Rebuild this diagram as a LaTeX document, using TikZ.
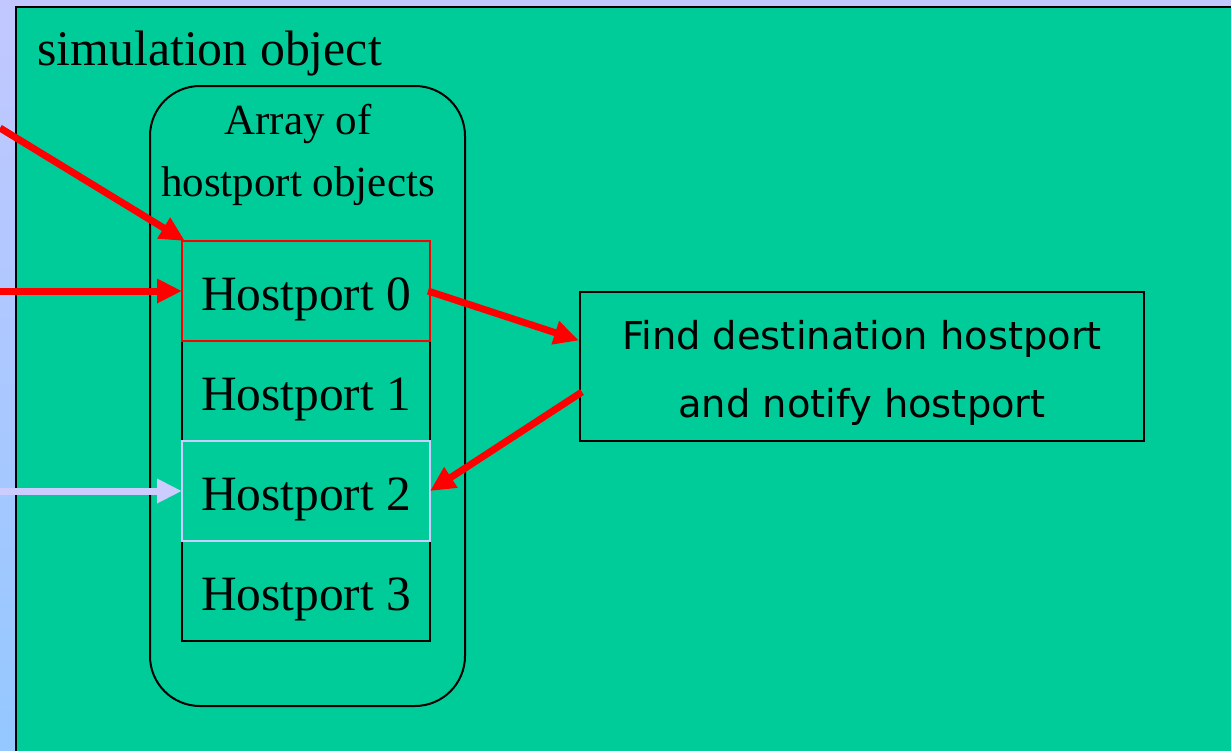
\documentclass[tikz,border=0pt]{standalone}
\usepackage{fontspec}
\setmainfont{Liberation Serif}
\newfontfamily\findfont{DejaVu Sans}
\usetikzlibrary{arrows.meta}
\definecolor{simgreen}{RGB}{0,204,153}
\definecolor{lavender}{RGB}{204,204,255}
\definecolor{bgtop}{RGB}{194,200,255}
\definecolor{bgbot}{RGB}{148,200,255}

\begin{document}
\begin{tikzpicture}[x=0.5pt, y=-0.5pt,
    hpbox/.style={minimum width=124pt, minimum height=50pt, inner sep=0pt, outer sep=0pt,
      line width=1pt, text height=19pt, text depth=0pt, font=\fontsize{24.7}{30}\selectfont},
    redarrow/.style={red, line width=3.5pt, -{Triangle[length=12.5pt,width=11.5pt]}},
    lavarrow/.style={redarrow, lavender}]
    \useasboundingbox (0,0) rectangle (1231,750);
    \clip (0,0) rectangle (1231,750);
    \shade[top color=bgtop, bottom color=bgbot] (0,0) rectangle (1231,750);
    % simulation object
    \draw[fill=simgreen, line width=1pt] (16,7) rectangle (1245,765);
    \node[anchor=base west, inner sep=0pt, font=\fontsize{24.9}{30}\selectfont] (sim) at (37,65) {simulation object};
    % array of hostports
    \draw[line width=1pt, rounded corners=25pt] (150,86) rectangle (465,706);
    \node[align=center, inner sep=0pt, font=\fontsize{21.5}{31}\selectfont] (arr) at (298,155) {Array of\\hostport objects};
    \foreach \i/\c in {1/black,3/black,0/red,2/lavender}
      \node[hpbox, draw=\c] (hp\i) at (306,{291+100*\i}) {Hostport \i};
    % destination box
    \node[draw, line width=1pt, minimum width=282pt, minimum height=74.5pt, align=center,
      font=\findfont\fontsize{19.2}{34}\selectfont] (find) at (862,366.5)
      {\rule{0pt}{21pt}Find destination hostport\\and notify hostport};
    \coordinate (in0) at (0,128);
    \coordinate (in1) at (0,291);
    \coordinate (in2) at (0,491);
    \draw[redarrow] (in0) -- ([xshift=1.5pt]hp0.north west);
    \draw[redarrow] (in1) -- (hp0.west);
    \draw[lavarrow] (in2) -- (hp2.west);
    \draw[redarrow] ([xshift=-1pt]hp0.east) -- ([yshift=13pt]find.west);
    \draw[redarrow] ([xshift=1.5pt,yshift=-12.75pt]find.west) -- (hp2.east);
\end{tikzpicture}
\end{document}
